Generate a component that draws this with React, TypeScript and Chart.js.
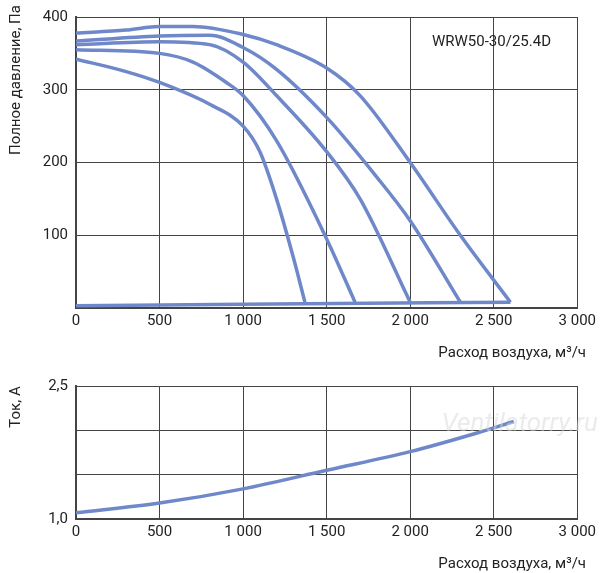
import React, { useEffect, useRef } from "react";
import { Chart, registerables } from "chart.js";
Chart.register(...registerables);

const curve1 = [[0,378],[300,382],[500,387],[700,387],[1000,376],[1200,362],[1500,330],[1700,292],[2000,200],[2300,100],[2600,8]];
const curve2 = [[0,367],[500,374],[800,375],[1000,358],[1200,328],[1500,262],[1800,180],[2000,120],[2300,8]];
const curve3 = [[0,362],[500,366],[800,362],[1000,338],[1200,292],[1500,215],[1700,150],[2000,8]];
const curve4 = [[0,355],[500,350],[700,338],[900,310],[1000,292],[1200,230],[1500,95],[1670,8]];
const curve5 = [[0,342],[300,325],[500,310],[800,280],[1000,250],[1100,215],[1200,150],[1300,70],[1370,8]];
const baseLine = [[0,3],[1000,5],[2600,8]];
const currentCurve = [[0,1.07],[500,1.18],[1000,1.34],[1500,1.55],[2000,1.76],[2400,1.97],[2620,2.1]];

const COLOR = "#6f88c9";
const FONT = "'Liberation Sans Narrow', 'Roboto', sans-serif";
const fmtX = (v: number) => (v >= 1000 ? `${Math.floor(v / 1000)} ${String(v % 1000).padStart(3, "0")}` : String(v));

function ds(pts: number[][]) {
  return {
    data: pts.map(([x, y]) => ({ x, y })),
    borderColor: COLOR, borderWidth: 3.5, pointRadius: 0, fill: false,
    cubicInterpolationMode: "monotone" as const,
  };
}

function xScale() {
  return {
    type: "linear" as const, min: 0, max: 3000,
    ticks: { stepSize: 500, color: "#222", font: { family: FONT, size: 15 }, callback: (v: any) => fmtX(v), maxRotation: 0, padding: 4 },
    grid: { color: "#444", lineWidth: 1, drawTicks: false },
    border: { color: "#444", width: 2 },
    afterFit: (s: any) => { s.height = 54; },
  };
}

const overlay = {
  id: "overlay",
  afterDraw(chart: any, _a: any, opts: any) {
    const c = chart.ctx;
    c.save();
    c.fillStyle = "#222";
    c.font = `15px ${FONT}`;
    c.textAlign = "right";
    c.textBaseline = "middle";
    c.fillText("Расход воздуха, м³/ч", 586, chart.chartArea.bottom + 45);
    if (opts.yTitle) {
      c.translate(16, opts.yTitleY);
      c.rotate(-Math.PI / 2);
      c.textAlign = "center";
      c.fillText(opts.yTitle, 0, 0);
    }
    c.restore();
    if (opts.label) {
      c.save();
      c.fillStyle = "#222";
      c.font = `15px ${FONT}`;
      c.textAlign = "left";
      c.textBaseline = "middle";
      c.fillText(opts.label, 432, 42);
      c.restore();
    }
    if (opts.watermark) {
      c.save();
      c.fillStyle = "rgba(215,215,215,0.5)";
      c.font = `italic 26px ${FONT}`;
      c.textAlign = "right";
      c.textBaseline = "middle";
      c.fillText(opts.watermark, 598, 62);
      c.restore();
    }
  },
};

export default function App() {
  const r1 = useRef<HTMLCanvasElement>(null);
  const r2 = useRef<HTMLCanvasElement>(null);
  useEffect(() => {
    const c1 = new Chart(r1.current!, {
      type: "line",
      data: { datasets: [curve1, curve2, curve3, curve4, curve5, baseLine].map(ds) as any },
      plugins: [overlay],
      options: {
        responsive: false, animation: false,
        layout: { padding: { top: 15, right: 22, left: 0, bottom: 0 } },
        plugins: { legend: { display: false }, tooltip: { enabled: false }, overlay: { yTitle: "Полное давление, Па", yTitleY: 80, label: "WRW50-30/25.4D" } } as any,
        scales: {
          x: xScale() as any,
          y: {
            min: 0, max: 400,
            ticks: { stepSize: 100, color: "#222", font: { family: FONT, size: 15 }, callback: (v: any) => (v === 0 ? "" : String(v)), padding: 8 },
            grid: { color: "#444", lineWidth: 1, drawTicks: false },
            border: { color: "#444", width: 2 },
            afterFit: (s: any) => { s.width = 76; },
          } as any,
        },
      },
    });
    const c2 = new Chart(r2.current!, {
      type: "line",
      data: { datasets: [ds(currentCurve)] as any },
      plugins: [overlay],
      options: {
        responsive: false, animation: false,
        layout: { padding: { top: 24, right: 22, left: 0, bottom: 0 } },
        plugins: { legend: { display: false }, tooltip: { enabled: false }, overlay: { yTitle: "Ток, А", yTitleY: 45, watermark: "Ventilatorry.ru" } } as any,
        scales: {
          x: xScale() as any,
          y: {
            min: 1, max: 2.5,
            ticks: { stepSize: 0.5, color: "#222", font: { family: FONT, size: 15 }, callback: (v: any) => (v === 1 || v === 2.5 ? v.toFixed(1).replace(".", ",") : ""), padding: 8 },
            grid: { color: "#444", lineWidth: 1, drawTicks: false },
            border: { color: "#444", width: 2 },
            afterFit: (s: any) => { s.width = 76; },
          } as any,
        },
      },
    });
    return () => { c1.destroy(); c2.destroy(); };
  }, []);
  return (
    <div style={{ position: "absolute", left: 0, top: 0, width: 600, height: 573, background: "#fff" }}>
      <canvas ref={r1} width={600} height={362} style={{ display: "block" }} />
      <canvas ref={r2} width={600} height={211} style={{ display: "block" }} />
    </div>
  );
}
